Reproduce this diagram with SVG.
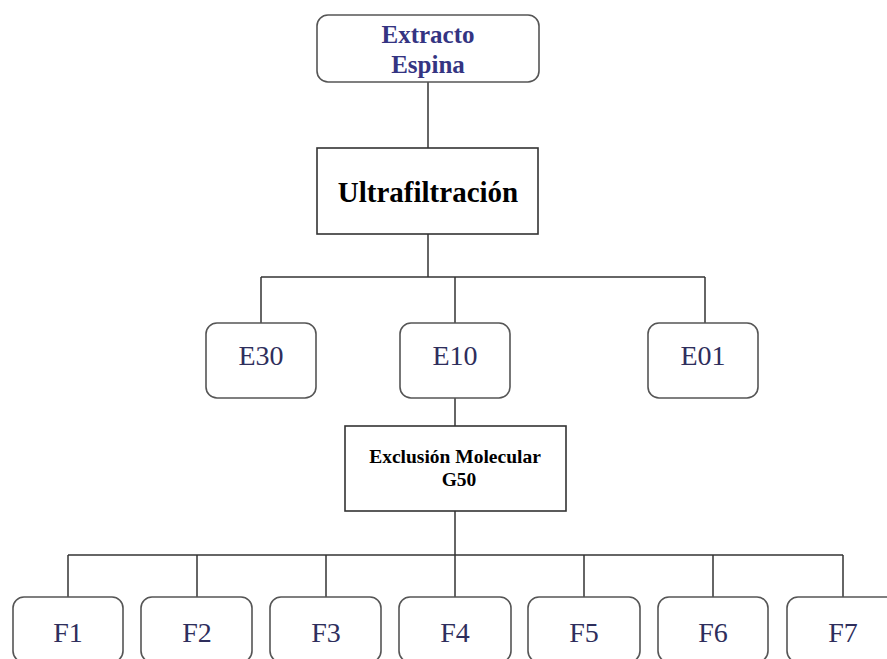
<svg xmlns="http://www.w3.org/2000/svg" width="887" height="659" viewBox="0 0 887 659">
<style>
.rbox{fill:#fff;stroke:#555;stroke-width:1.6}
.sbox{fill:#fff;stroke:#333;stroke-width:1.6}
.conn line{stroke:#333;stroke-width:1.5}
.t{font-family:'Liberation Serif','Times New Roman','DejaVu Serif',serif;text-anchor:middle}
.title{font-size:25px;font-weight:bold;fill:#343482}
.big{font-size:29px;font-weight:bold;fill:#000}
.mid{font-size:19.5px;font-weight:bold;fill:#000}
.leaf{font-size:28px;fill:#2e2e5c}
</style>
<rect width="887" height="659" fill="#fff"/>
<g class="conn" id="connectors">
<line x1="428" y1="82" x2="428" y2="148"/>
<line x1="428" y1="234" x2="428" y2="277"/>
<line x1="261" y1="277" x2="705" y2="277"/>
<line x1="261" y1="277" x2="261" y2="323"/>
<line x1="455" y1="277" x2="455" y2="323"/>
<line x1="705" y1="277" x2="705" y2="323"/>
<line x1="455" y1="398" x2="455" y2="426"/>
<line x1="455" y1="511" x2="455" y2="555"/>
<line x1="68" y1="555" x2="843" y2="555"/>
<line x1="68" y1="555" x2="68" y2="597"/>
<line x1="197" y1="555" x2="197" y2="597"/>
<line x1="326" y1="555" x2="326" y2="597"/>
<line x1="455" y1="555" x2="455" y2="597"/>
<line x1="584" y1="555" x2="584" y2="597"/>
<line x1="713" y1="555" x2="713" y2="597"/>
<line x1="843" y1="555" x2="843" y2="597"/>
</g>
<g id="extracto">
<rect class="rbox" x="317" y="15" width="222" height="67" rx="11"/>
<text class="t title" x="428" y="43" font-family="Liberation Serif, serif">Extracto</text>
<text class="t title" x="428" y="73" font-family="Liberation Serif, serif">Espina</text>
</g>
<g id="ultrafiltracion">
<rect class="sbox" x="317" y="148" width="221" height="86"/>
<text class="t big" x="428" y="202" font-family="Liberation Serif, serif">Ultrafiltración</text>
</g>
<g id="e30">
<rect class="rbox" x="206" y="323" width="110" height="75" rx="11"/>
<text class="t leaf" x="261" y="365" font-family="Liberation Serif, serif">E30</text>
</g>
<g id="e10">
<rect class="rbox" x="400" y="323" width="110" height="75" rx="11"/>
<text class="t leaf" x="455" y="365" font-family="Liberation Serif, serif">E10</text>
</g>
<g id="e01">
<rect class="rbox" x="648" y="323" width="110" height="75" rx="11"/>
<text class="t leaf" x="703" y="365" font-family="Liberation Serif, serif">E01</text>
</g>
<g id="exclusion">
<rect class="sbox" x="345" y="426" width="221" height="85"/>
<text class="t mid" x="455" y="463" font-family="Liberation Serif, serif">Exclusión Molecular</text>
<text class="t mid" x="459" y="486" font-family="Liberation Serif, serif">G50</text>
</g>
<g id="f1">
<rect class="rbox" x="13" y="597" width="110" height="65" rx="11"/>
<text class="t leaf" x="68" y="642" font-family="Liberation Serif, serif">F1</text>
</g>
<g id="f2">
<rect class="rbox" x="141" y="597" width="111" height="65" rx="11"/>
<text class="t leaf" x="197" y="642" font-family="Liberation Serif, serif">F2</text>
</g>
<g id="f3">
<rect class="rbox" x="270" y="597" width="111" height="65" rx="11"/>
<text class="t leaf" x="326" y="642" font-family="Liberation Serif, serif">F3</text>
</g>
<g id="f4">
<rect class="rbox" x="399" y="597" width="112" height="65" rx="11"/>
<text class="t leaf" x="455" y="642" font-family="Liberation Serif, serif">F4</text>
</g>
<g id="f5">
<rect class="rbox" x="528" y="597" width="112" height="65" rx="11"/>
<text class="t leaf" x="584" y="642" font-family="Liberation Serif, serif">F5</text>
</g>
<g id="f6">
<rect class="rbox" x="658" y="597" width="110" height="65" rx="11"/>
<text class="t leaf" x="713" y="642" font-family="Liberation Serif, serif">F6</text>
</g>
<g id="f7">
<rect class="rbox" x="787" y="597" width="112" height="65" rx="11"/>
<text class="t leaf" x="843" y="642" font-family="Liberation Serif, serif">F7</text>
</g>
</svg>
